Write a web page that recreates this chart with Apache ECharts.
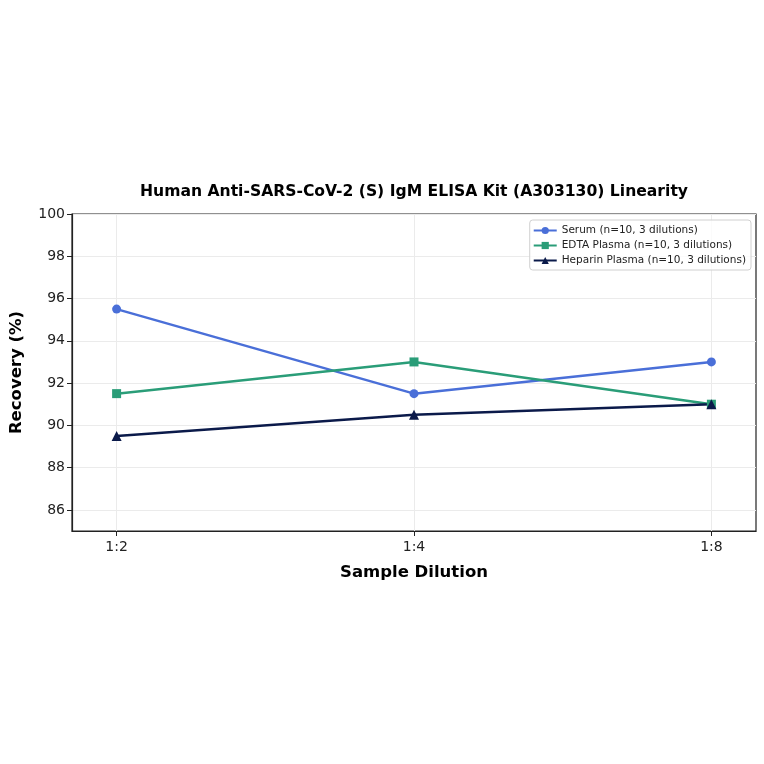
<!DOCTYPE html>
<html>
<head>
<meta charset="utf-8">
<script src="https://cdn.jsdelivr.net/npm/echarts@6/dist/echarts.min.js"></script>
<style>
  html, body { margin: 0; padding: 0; background: #fff; }
  #chart_container { width: 764px; height: 764px; }
</style>
</head>
<body>
<div id="chart_container"></div>
<script>
"use strict";
// data
var dilutions = ['1:2', '1:4', '1:8'];
var serum = [95.5, 91.5, 93.0];
var edtaPlasma = [91.5, 93.0, 91.0];
var heparinPlasma = [89.5, 90.5, 91.0];
var yTicks = [86, 88, 90, 92, 94, 96, 98, 100];

function toPoints(values) {
    var pts = [];
    for (var i = 0; i < values.length; i++) {
        pts.push([i, values[i]]);
    }
    return pts;
}

var font = 'DejaVu Sans';
var myChart = echarts.init(document.getElementById('chart_container'));

var option = {
    backgroundColor: '#fff',
    animation: false,
    title: {
        text: 'Human Anti-SARS-CoV-2 (S) IgM ELISA Kit (A303130) Linearity',
        left: 409,
        textAlign: 'center',
        top: 179,
        textStyle: {fontFamily: font, fontSize: 15.6, fontWeight: 'bold', color: '#000'}
    },
    grid: {left: 69, right: 8, top: 214, bottom: 233, show: true, borderColor: '#222', borderWidth: 1.2},
    legend: {
        orient: 'vertical',
        right: 13,
        top: 220,
        itemWidth: 23,
        itemHeight: 9,
        itemGap: 4,
        padding: [5, 5, 4, 3],
        borderColor: '#d0d0d0',
        borderWidth: 1,
        borderRadius: 3,
        backgroundColor: 'rgba(255,255,255,0.8)',
        textStyle: {fontFamily: font, fontSize: 10.5, color: '#222'},
        data: ['Serum (n=10, 3 dilutions)', 'EDTA Plasma (n=10, 3 dilutions)', 'Heparin Plasma (n=10, 3 dilutions)']
    },
    xAxis: {
        type: 'value',
        min: -0.15,
        max: 2.15,
        name: 'Sample Dilution',
        nameLocation: 'middle',
        nameGap: 33,
        nameTextStyle: {fontFamily: font, fontSize: 16.5, fontWeight: 'bold', color: '#000'},
        axisLine: {onZero: false, lineStyle: {color: '#222', width: 1.2}},
        axisTick: {customValues: [0, 1, 2], length: 5, lineStyle: {color: '#222'}},
        axisLabel: {
            customValues: [0, 1, 2],
            fontFamily: font, fontSize: 14, color: '#222', margin: 9,
            formatter: function (v) { return dilutions[Math.round(v)]; }
        },
        splitLine: {show: true, lineStyle: {color: '#ebebeb', width: 1}}
    },
    yAxis: {
        type: 'value',
        min: 85,
        max: 100,
        name: 'Recovery (%)',
        nameLocation: 'middle',
        nameGap: 47,
        nameTextStyle: {fontFamily: font, fontSize: 16.5, fontWeight: 'bold', color: '#000'},
        axisLine: {show: true, onZero: false, lineStyle: {color: '#222', width: 1.2}},
        axisTick: {show: true, customValues: yTicks, length: 5, lineStyle: {color: '#222'}},
        axisLabel: {customValues: yTicks, fontFamily: font, fontSize: 14, color: '#222', margin: 7},
        splitLine: {show: true, lineStyle: {color: '#ebebeb', width: 1}}
    },
    series: [
        {
            name: 'Serum (n=10, 3 dilutions)',
            type: 'line',
            data: toPoints(serum),
            symbol: 'circle',
            symbolSize: 9,
            lineStyle: {width: 2.5, color: '#4A6FD8'},
            itemStyle: {color: '#4A6FD8'}
        },
        {
            name: 'EDTA Plasma (n=10, 3 dilutions)',
            type: 'line',
            data: toPoints(edtaPlasma),
            symbol: 'rect',
            symbolSize: 9,
            lineStyle: {width: 2.5, color: '#2A9D78'},
            itemStyle: {color: '#2A9D78'}
        },
        {
            name: 'Heparin Plasma (n=10, 3 dilutions)',
            type: 'line',
            data: toPoints(heparinPlasma),
            symbol: 'triangle',
            symbolSize: 10,
            lineStyle: {width: 2.5, color: '#0B1A4A'},
            itemStyle: {color: '#0B1A4A'}
        }
    ]
};
myChart.setOption(option);
</script>
</body>
</html>
